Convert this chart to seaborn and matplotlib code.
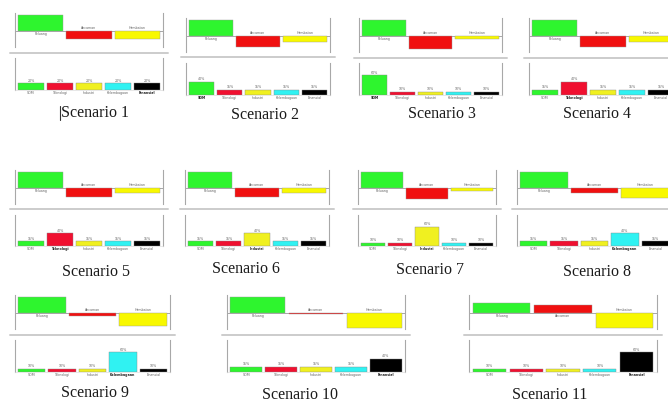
import matplotlib
matplotlib.use("Agg")
import matplotlib.pyplot as plt
from matplotlib.lines import Line2D
import numpy as np
import pandas as pd
import seaborn as sns

# Data
SCENARIOS = ["Scenario 1", "Scenario 2", "Scenario 3", "Scenario 4", "Scenario 5", "Scenario 6",
             "Scenario 7", "Scenario 8", "Scenario 9", "Scenario 10", "Scenario 11"]

BALANCE_CATS = ["Peluang", "Ancaman", "Hambatan"]
balance_green  = [100, 100, 100, 100, 100, 100, 100, 100, 100, 100, 62]
balance_red    = [-50, -68, -80, -68, -56, -54, -66, -30, -20, -5, 46]
balance_yellow = [-50, -36, -19, -36, -29, -29, -18, -60, -80, -94, -94]

FACTOR_CATS = ["SDM", "Teknologi", "Industri", "Kelembagaan", "Finansial"]
share_sdm = [20, 40, 60, 15, 15, 15, 10, 15, 10, 15, 10]
share_tek = [20, 15, 10, 40, 40, 15, 10, 15, 10, 15, 10]
share_ind = [20, 15, 10, 15, 15, 40, 60, 15, 10, 15, 10]
share_kel = [20, 15, 10, 15, 15, 15, 10, 40, 60, 15, 10]
share_fin = [20, 15, 10, 15, 15, 15, 10, 15, 10, 40, 60]

BALANCE_COLORS = ["#2ef52e", "#f01010", "#f8f800"]
FACTOR_COLORS  = ["#2ef52e", "#f01030", "#f0f020", "#30f2f2", "#000000"]

# Layout in pixels (figure is 668x404)
W, H = 668, 404
PANEL_X  = [(15, 163), (186, 330), (359, 502), (529, 677),
            (15, 163), (185, 329), (358, 496), (517, 672),
            (15, 170), (227, 405), (469, 657)]
TOP_BASE = [31, 36, 36, 36, 188, 188, 188, 188, 313, 313, 313]
BOT_BOX  = [(58, 90), (63, 95), (63, 95), (63, 95),
            (215, 246), (215, 246), (215, 246), (215, 246),
            (340, 372), (340, 372), (340, 372)]
SEP_Y    = [53, 57, 58, 58, 209, 209, 209, 209, 335, 335, 335]
LABEL_XY = [(95, 113), (265, 115), (442, 114), (597, 114),
            (96, 272), (246, 269), (430, 270), (597, 272),
            (95, 393), (300, 395), (550, 395)]

TOP_YLIM = (-100, 110)
BOT_YLIM = (0, 97)

sns.set_style("white")
plt.rcParams["font.family"] = ["DejaVu Sans"]

fig = plt.figure(figsize=(W / 100, H / 100), dpi=100)
fig.patch.set_facecolor("white")


def px_axes(x0, x1, y0, y1):
    return fig.add_axes([x0 / W, 1 - y1 / H, (x1 - x0) / W, (y1 - y0) / H])


def style_axes(ax, bottom=False):
    for side in ["top", "bottom"]:
        ax.spines[side].set_visible(False)
    for side in ["left", "right"]:
        ax.spines[side].set_color("#a8a8a8")
        ax.spines[side].set_linewidth(0.8)
    if bottom:
        ax.spines["bottom"].set_visible(True)
        ax.spines["bottom"].set_color("#dddddd")
        ax.spines["bottom"].set_linewidth(0.5)
    ax.set_xticks([]); ax.set_yticks([])
    ax.set_xlabel(""); ax.set_ylabel("")
    ax.set_facecolor("none")


for i, name in enumerate(SCENARIOS):
    x0, x1 = PANEL_X[i]
    base = TOP_BASE[i]

    # Top panel: diverging balance bars
    top_px = 34.5
    up = top_px * TOP_YLIM[1] / (TOP_YLIM[1] - TOP_YLIM[0])
    ax = px_axes(x0, x1, base - up, base - up + top_px)
    df_top = pd.DataFrame({"cat": BALANCE_CATS,
                           "val": [balance_green[i], balance_red[i], balance_yellow[i]]})
    sns.barplot(data=df_top, x="cat", y="val", hue="cat", palette=BALANCE_COLORS,
                saturation=1, legend=False, width=0.94, edgecolor="#999999",
                linewidth=0.3, ax=ax)
    ax.axhline(0, color="#a8a8a8", linewidth=0.7, zorder=0)
    ax.set_xlim(-0.53, 2.53); ax.set_ylim(*TOP_YLIM)
    style_axes(ax)
    for j, (cat, v) in enumerate(zip(df_top["cat"], df_top["val"])):
        if v >= 0:
            ax.text(j, -6, cat, ha="center", va="top", fontsize=2.3, color="#666666")
        else:
            ax.text(j, 6, cat, ha="center", va="bottom", fontsize=2.3, color="#666666")

    # Bottom panel: factor shares
    b0, b1 = BOT_BOX[i]
    axb = px_axes(x0, x1, b0, b1)
    vals = [share_sdm[i], share_tek[i], share_ind[i], share_kel[i], share_fin[i]]
    df_bot = pd.DataFrame({"cat": FACTOR_CATS, "val": vals})
    sns.barplot(data=df_bot, x="cat", y="val", hue="cat", palette=FACTOR_COLORS,
                saturation=1, legend=False, width=0.9, edgecolor="#888888",
                linewidth=0.3, ax=axb)
    axb.set_xlim(-0.55, 4.55); axb.set_ylim(*BOT_YLIM)
    style_axes(axb, bottom=True)
    hi = len(vals) - 1 - int(np.argmax(vals[::-1]))
    for j, (cat, v) in enumerate(zip(FACTOR_CATS, vals)):
        axb.text(j, v + 2, f"{v}%", ha="center", va="bottom", fontsize=2.3, color="#666666")
        axb.text(j, -3, cat, ha="center", va="top", fontsize=2.3, clip_on=False,
                 color="#222222" if j == hi else "#666666",
                 fontweight="bold" if j == hi else "normal")

    # Separator between the two panels
    sy = 1 - SEP_Y[i] / H
    fig.add_artist(Line2D([(x0 - 5) / W, (x1 + 5) / W], [sy, sy], transform=fig.transFigure,
                          color="#cccccc", linewidth=1.4))

    # Scenario caption
    lx, ly = LABEL_XY[i]
    fig.text(lx / W, 1 - ly / H, name, ha="center", va="center", fontsize=11.5,
             family=["Liberation Serif", "DejaVu Serif"], color="#1a1a1a")

# text cursor left of the first caption
fig.add_artist(Line2D([60 / W, 60 / W], [1 - 106 / H, 1 - 120 / H], transform=fig.transFigure,
                      color="#333333", linewidth=0.8))

fig.savefig("out.png", dpi=100)
plt.close()
